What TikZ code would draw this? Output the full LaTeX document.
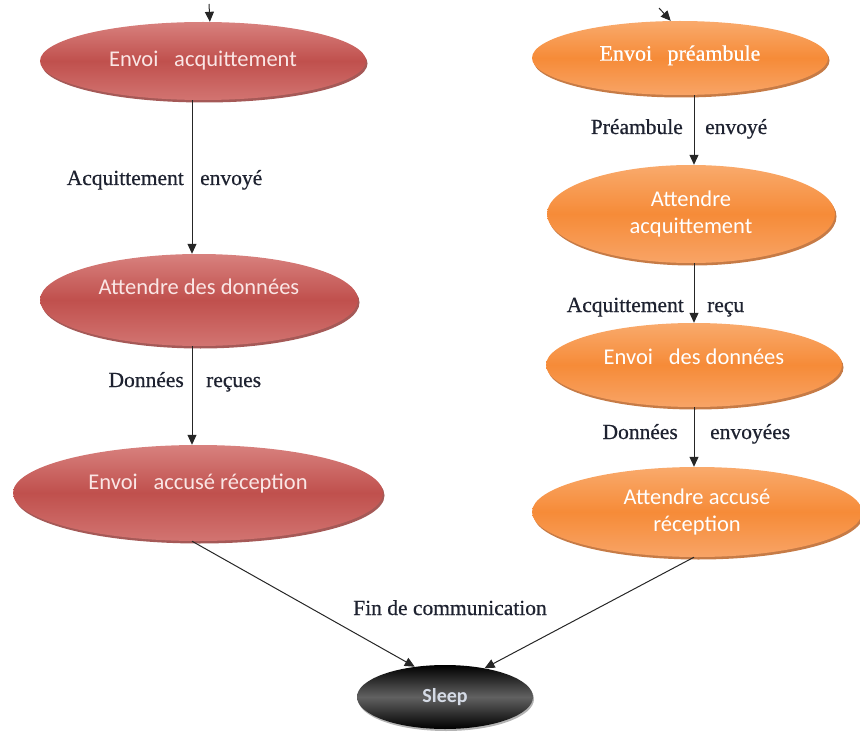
\documentclass[tikz,border=0pt]{standalone}
\usepackage{fontspec}
\setmainfont{Liberation Serif}
\newfontfamily\statefont{Carlito}
\newfontfamily\seriffont[FakeBold=0.6]{Liberation Serif}
\newfontfamily\labelfont[FakeBold=0.6]{Liberation Serif}
\usetikzlibrary{shapes.geometric,arrows.meta,shadows}

\definecolor{redtop}{HTML}{D8817E}
\definecolor{redmid}{HTML}{C0504D}
\definecolor{redbot}{HTML}{D27471}
\definecolor{redrim}{HTML}{8E302D}
\definecolor{redtxt}{HTML}{FAE6E5}
\definecolor{orgtop}{HTML}{F9AA6C}
\definecolor{orgmid}{HTML}{F68B38}
\definecolor{orgbot}{HTML}{F8A466}
\definecolor{orgrim}{HTML}{B85A18}
\definecolor{sleeptxt}{HTML}{D5DBE6}
\definecolor{labeltxt}{HTML}{1E2230}

% raise a state text above the ellipse centre by half of #1
\newcommand{\uptext}[2]{\raisebox{#1}{#2}}

\tikzset{
  state/.style={ellipse, inner sep=0pt, align=center,
    font=\statefont\fontsize{22.5}{27}\selectfont},
  redstate/.style={state, top color=redtop, bottom color=redbot, middle color=redmid,
    text=redtxt,
    drop shadow={shadow xshift=1.5pt, shadow yshift=-2.5pt, fill=redrim, opacity=0.8}},
  orangestate/.style={state, top color=orgtop, bottom color=orgbot, middle color=orgmid,
    text=white,
    drop shadow={shadow xshift=1.5pt, shadow yshift=-2.5pt, fill=orgrim, opacity=0.8}},
  sleepstate/.style={state, top color=black, bottom color=black, middle color=black!62,
    text=sleeptxt, font=\statefont\bfseries\fontsize{20}{24}\selectfont,
    drop shadow={shadow xshift=1pt, shadow yshift=-2pt, fill=black!50, opacity=0.6}},
  arr/.style={draw=black!85, line width=1pt, -{Triangle[length=10pt,width=9pt]}},
  lbl/.style={text=labeltxt, font=\labelfont\fontsize{21.5}{25}\selectfont, inner sep=0pt}
}

\begin{document}
\begin{tikzpicture}[x=1pt,y=-1pt]
  \useasboundingbox (0,0) rectangle (860,733);

  % column axes for the vertical connectors
  \coordinate (colL) at (192,0);
  \coordinate (colR) at (694,0);

  % left chain (receiver)
  \node[redstate, minimum width=326pt, minimum height=78pt] (E1) at (203,61)
    {Envoi\hspace{0.7em}acquittement};
  \node[redstate, minimum width=318pt, minimum height=92pt] (E2) at (199,300)
    {\uptext{26pt}{Attendre des données}};
  \node[redstate, minimum width=370pt, minimum height=96pt] (E3) at (198,493)
    {\uptext{22pt}{Envoi\hspace{0.7em}accusé réception}};

  % right chain (sender)
  \node[orangestate, minimum width=296pt, minimum height=74pt] (R1) at (680,58)
    {\uptext{10pt}{\seriffont\fontsize{22}{26}\selectfont Envoi\hspace{0.7em}préambule}};
  \node[orangestate, minimum width=288pt, minimum height=98pt] (R2) at (691,214)
    {Attendre\\acquittement};
  \node[orangestate, minimum width=296pt, minimum height=84pt] (R3) at (694,365)
    {\uptext{16pt}{Envoi\hspace{0.7em}des données}};
  \node[orangestate, minimum width=330pt, minimum height=90pt] (R4) at (697,512)
    {Attendre accusé\\réception};

  % final state
  \node[sleepstate, minimum width=176pt, minimum height=64pt] (S) at (445,697) {Sleep};

  % incoming stubs at the top
  \coordinate (inL) at (209,4);
  \coordinate (inR) at (659,8);
  \draw[arr] (inL) -- (E1.80);
  \draw[arr] (inR) -- (R1.104);

  % vertical transitions
  \draw[arr] (E1.south -| colL) -- (E2.north -| colL);
  \draw[arr] (E2.south -| colL) -- (E3.north -| colL);
  \draw[arr] (R1.south -| colR) -- (R2.north -| colR);
  \draw[arr] (R2.south -| colR) -- (R3.north -| colR);
  \draw[arr] (R3.south -| colR) -- (R4.north -| colR);

  % transitions to sleep
  \draw[arr] (E3.south -| colL) -- (S.135);
  \draw[arr] (R4.south -| colR) -- (S.36);

  % transition labels
  \node[lbl, anchor=base east] (l1a) at (184,185) {Acquittement};
  \node[lbl, anchor=base west] (l1b) at (200,185) {envoyé};
  \node[lbl, anchor=base east] (l2a) at (184,387) {Données};
  \node[lbl, anchor=base west] (l2b) at (206,387) {reçues};
  \node[lbl, anchor=base east] (l3a) at (683,134) {Préambule};
  \node[lbl, anchor=base west] (l3b) at (705,134) {envoyé};
  \node[lbl, anchor=base east] (l4a) at (684,312) {Acquittement};
  \node[lbl, anchor=base west] (l4b) at (707,312) {reçu};
  \node[lbl, anchor=base east] (l5a) at (678,439) {Données};
  \node[lbl, anchor=base west] (l5b) at (710,439) {envoyées};
  \node[lbl, anchor=base] (l6) at (450,615) {Fin de communication};
\end{tikzpicture}
\end{document}
